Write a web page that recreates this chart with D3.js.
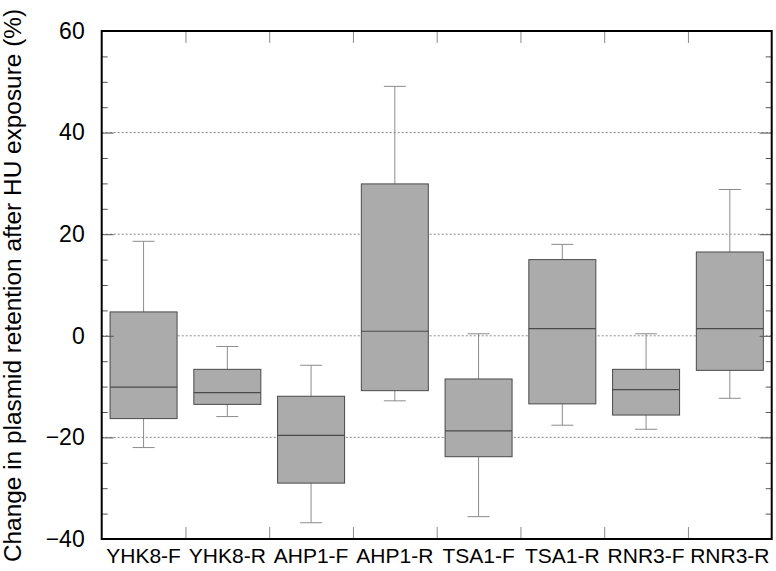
<!DOCTYPE html>
<html>
<head>
<meta charset="utf-8">
<script src="https://cdn.jsdelivr.net/npm/d3@7/dist/d3.min.js"></script>
<style>
  html, body { margin: 0; padding: 0; background: #fff; }
  svg { display: block; }
  text { font-family: "Liberation Sans", Arial, sans-serif; fill: #000; }
</style>
</head>
<body>
<svg id="chart" width="776" height="571"></svg>
<script>
const categories = ["YHK8-F", "YHK8-R", "AHP1-F", "AHP1-R", "TSA1-F", "TSA1-R", "RNR3-F", "RNR3-R"];
const whiskerLow  = [-22.0, -15.9, -36.8, -12.8, -35.6, -17.6, -18.4, -12.3];
const q1          = [-16.3, -13.5, -29.0, -10.8, -23.8, -13.4, -15.6, -6.8];
const medians     = [-10.1, -11.2, -19.6,   0.9, -18.7,   1.4, -10.6,  1.4];
const q3          = [  4.7,  -6.6, -11.9,  29.9,  -8.5,  15.0,  -6.6, 16.5];
const whiskerHigh = [ 18.6,  -2.1,  -5.8,  49.1,   0.4,  18.0,   0.4, 28.8];
const yTicks = [-40, -20, 0, 20, 40, 60];
const yMinorTicks = [-35, -30, -25, -15, -10, -5, 5, 10, 15, 25, 30, 35, 45, 50, 55];
const yTitle = "Change in plasmid retention after HU exposure (%)";

const data = categories.map((c, i) => ({
  cat: c, lo: whiskerLow[i], q1: q1[i], med: medians[i], q3: q3[i], hi: whiskerHigh[i]
}));

const svg = d3.select("#chart");
const L = 101.7, R = 771.7, T = 31, B = 539;

const x = d3.scaleBand().domain(categories).range([L, R]).paddingInner(0.2).paddingOuter(0.1);
const xb = d3.scaleLinear().domain([0, categories.length]).range([L, R]);
const y = d3.scaleLinear().domain([-40, 60]).range([B, T]);

// gridlines
svg.append("g").selectAll("line")
  .data(yTicks.filter(v => v > -40 && v < 60))
  .join("line")
  .attr("x1", L).attr("x2", R)
  .attr("y1", d => y(d)).attr("y2", d => y(d))
  .attr("stroke", "#8a8a8a").attr("stroke-width", 1)
  .attr("stroke-dasharray", "2,2");

// boxes
const g = svg.append("g");
const bw = x.bandwidth();
const capW = 22;
data.forEach(d => {
  const cx = x(d.cat) + bw / 2;
  const grp = g.append("g");
  grp.append("line").attr("x1", cx).attr("x2", cx).attr("y1", y(d.q3)).attr("y2", y(d.hi))
    .attr("stroke", "#8c8c8c").attr("stroke-width", 1);
  grp.append("line").attr("x1", cx).attr("x2", cx).attr("y1", y(d.q1)).attr("y2", y(d.lo))
    .attr("stroke", "#8c8c8c").attr("stroke-width", 1);
  grp.append("line").attr("x1", cx - capW / 2).attr("x2", cx + capW / 2).attr("y1", y(d.hi)).attr("y2", y(d.hi))
    .attr("stroke", "#8c8c8c").attr("stroke-width", 1);
  grp.append("line").attr("x1", cx - capW / 2).attr("x2", cx + capW / 2).attr("y1", y(d.lo)).attr("y2", y(d.lo))
    .attr("stroke", "#8c8c8c").attr("stroke-width", 1);
  grp.append("rect").attr("x", x(d.cat)).attr("width", bw)
    .attr("y", y(d.q3)).attr("height", y(d.q1) - y(d.q3))
    .attr("fill", "#ababab").attr("stroke", "#4a4a4a").attr("stroke-width", 1);
  grp.append("line").attr("x1", x(d.cat)).attr("x2", x(d.cat) + bw).attr("y1", y(d.med)).attr("y2", y(d.med))
    .attr("stroke", "#4a4a4a").attr("stroke-width", 1.2);
});

function styleAxis(sel) {
  sel.select(".domain").remove();
  sel.selectAll(".tick line").attr("stroke", "#555").attr("stroke-width", 1);
}
svg.append("g").attr("transform", `translate(${L},0)`)
  .call(d3.axisRight(y).tickValues(yMinorTicks).tickSize(6).tickFormat(""))
  .call(styleAxis);
svg.append("g").attr("transform", `translate(${L},0)`)
  .call(d3.axisRight(y).tickValues(yTicks).tickSize(12).tickFormat(""))
  .call(styleAxis);
svg.append("g").attr("transform", `translate(${R},0)`)
  .call(d3.axisLeft(y).tickValues(yMinorTicks).tickSize(6).tickFormat(""))
  .call(styleAxis);
svg.append("g").attr("transform", `translate(${R},0)`)
  .call(d3.axisLeft(y).tickValues(yTicks).tickSize(12).tickFormat(""))
  .call(styleAxis);

const yLab = svg.append("g").attr("transform", `translate(${L},0)`)
  .call(d3.axisLeft(y).tickValues(yTicks).tickSize(0).tickPadding(17).tickFormat(d3.format("d")));
yLab.select(".domain").remove();
yLab.selectAll("text").style("font-size", "23px").style("font-family", '"Liberation Sans", Arial, sans-serif').attr("fill", "#000");

const boundaries = d3.range(1, categories.length);
svg.append("g").attr("transform", `translate(0,${B})`)
  .call(d3.axisTop(xb).tickValues(boundaries).tickSize(12).tickFormat(""))
  .call(s => { s.select(".domain").remove(); s.selectAll(".tick line").attr("stroke", "#8c8c8c"); });
svg.append("g").attr("transform", `translate(0,${T})`)
  .call(d3.axisBottom(xb).tickValues(boundaries).tickSize(12).tickFormat(""))
  .call(s => { s.select(".domain").remove(); s.selectAll(".tick line").attr("stroke", "#8c8c8c"); });

const xLab = svg.append("g").attr("transform", `translate(0,${B})`)
  .call(d3.axisBottom(x).tickSize(0).tickPadding(9));
xLab.select(".domain").remove();
xLab.selectAll("text").style("font-size", "21px").style("font-family", '"Liberation Sans", Arial, sans-serif').attr("fill", "#000");

svg.append("rect").attr("x", L).attr("y", T).attr("width", R - L).attr("height", B - T)
  .attr("fill", "none").attr("stroke", "#000").attr("stroke-width", 2);

svg.append("text")
  .attr("transform", `translate(21,${571 / 2}) rotate(-90)`)
  .attr("text-anchor", "middle")
  .style("font-size", "24.4px")
  .text(yTitle);
</script>
</body>
</html>
